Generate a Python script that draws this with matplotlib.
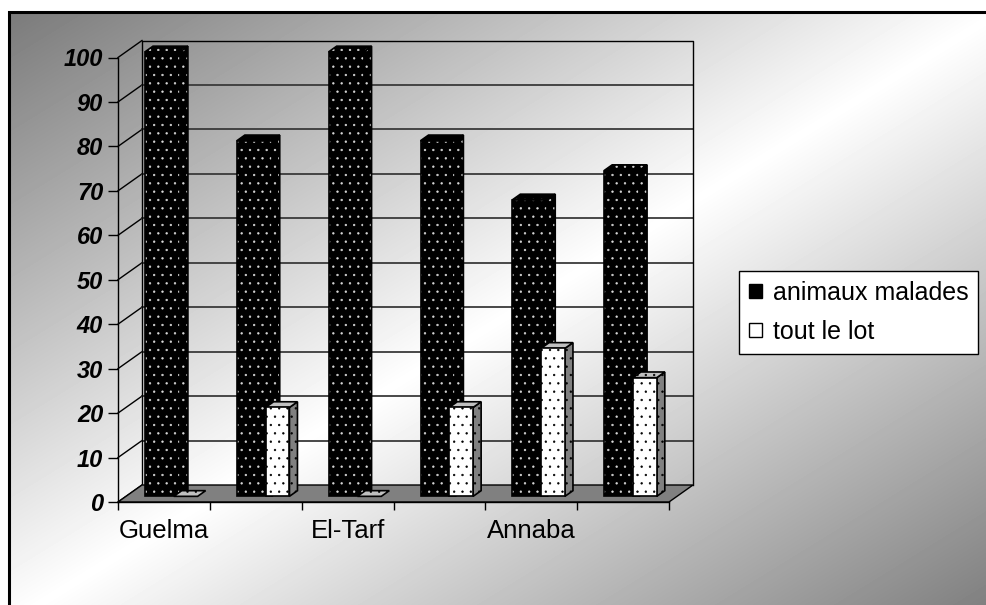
import numpy as np
import matplotlib.pyplot as plt
from matplotlib.patches import Polygon, Patch

plt.rcParams['font.family'] = ['Liberation Sans', 'DejaVu Sans']
plt.rcParams['hatch.linewidth'] = 0.45

# data
places = ["Guelma", "", "El-Tarf", "", "Annaba", ""]
malades = [100, 80, 100, 80, 66.7, 73.3]
lot = [0, 20, 0, 20, 33.3, 26.7]
series_names = ["animaux malades", "tout le lot"]
yticks = np.arange(0, 101, 10)

W, H = 986, 605
fig = plt.figure(figsize=(W / 100, H / 100), dpi=100)

# chart area: diagonal gray -> white -> gray gradient
bg = fig.add_axes([0, 0, 1, 1])
bg.set_axis_off()
yy, xx = np.mgrid[0:H, 0:W]
t = (xx - 9) / 990 + (yy - 12) / 610
shade = 1 - 0.52 * np.abs(t - 1)
shade[(xx < 9) | (yy < 12)] = 1
bg.imshow(shade, cmap='gray', vmin=0, vmax=1, extent=(0, W, H, 0),
          aspect='auto', interpolation='bilinear')
bg.set_xlim(0, W)
bg.set_ylim(H, 0)
bg.plot([9, 9, W + 5], [H + 5, 12, 12], color='black', lw=2.2,
        solid_joinstyle='miter')

# plot area (front plane)
ax = fig.add_axes([118 / W, 103 / H, 551 / W, 444.5 / H])
ax.set_xlim(0, 6)
ax.set_ylim(0, 100)
ax.patch.set_visible(False)
for s in ['top', 'right']:
    ax.spines[s].set_visible(False)
for s in ['left', 'bottom']:
    ax.spines[s].set_linewidth(1.0)

# depth of the 3d box, in data units
DX, DY = 24 / 91.83, 17 / 4.445


def P(x, v, d):
    return (x + d * DX, v + d * DY)


def line(pts, **kw):
    xs, ys = zip(*pts)
    ax.plot(xs, ys, clip_on=False, **kw)


# walls and grid
for v in yticks:
    line([P(0, v, 0), P(0, v, 1)], color='black', lw=1.0, zorder=1)
    if 0 < v < 100:
        line([P(0, v, 1), P(6, v, 1)], color='#3a3a3a', lw=1.3, zorder=1)
line([P(0, 0, 1), P(0, 100, 1), P(6, 100, 1), P(6, 0, 1)],
     color='black', lw=1.0, zorder=1)

floor = [P(0, 0, 0), P(6, 0, 0), P(6, 0, 1), P(0, 0, 1)]
ax.add_patch(Polygon(floor, closed=True, facecolor='#808080',
                     edgecolor='black', lw=1.0, zorder=1.5, clip_on=False))


def face(pts, fc, dots, z):
    ax.add_patch(Polygon(pts, closed=True, facecolor=fc, edgecolor=dots,
                         hatch='..', lw=0, zorder=z, clip_on=False))
    ax.add_patch(Polygon(pts, closed=True, fill=False, edgecolor='black',
                         lw=1.2, zorder=z, clip_on=False))


def column(x0, w, v, colors, z):
    d0, d1 = 1 / 3, 2 / 3
    front_c, side_c, top_c, dots = colors
    top = [P(x0, v, d0), P(x0 + w, v, d0), P(x0 + w, v, d1), P(x0, v, d1)]
    if v > 0:
        side = [P(x0 + w, 0, d0), P(x0 + w, 0, d1), P(x0 + w, v, d1),
                P(x0 + w, v, d0)]
        front = [P(x0, 0, d0), P(x0 + w, 0, d0), P(x0 + w, v, d0),
                 P(x0, v, d0)]
        face(side, side_c, dots, z)
        face(top, top_c, dots, z)
        face(front, front_c, dots, z)
    else:
        face(top, top_c, dots, z)


dark = ('black', 'black', 'black', '#d8d8d8')
light = ('white', '#808080', '#c0c0c0', 'black')
for i in range(len(places)):
    column(i + 0.207, 0.38, malades[i], dark, 3 + 2 * i)
    column(i + 0.52, 0.26, lot[i], light, 4 + 2 * i)

# axes ticks and labels
ax.set_yticks(yticks)
ax.set_yticklabels([str(v) for v in yticks], fontsize=17,
                   fontweight='bold', fontstyle='italic')
ax.tick_params(axis='y', direction='out', length=7.2, width=1.0, pad=3.5)
ax.set_xticks(np.arange(0, 7))
ax.set_xticklabels([])
ax.tick_params(axis='x', which='major', direction='out', length=6,
               width=1.0)
ax.set_xticks(np.arange(len(places)) + 0.5, minor=True)
ax.set_xticklabels(places, minor=True, fontsize=18.5)
ax.tick_params(axis='x', which='minor', length=0, pad=12)

handles = [Patch(facecolor='black', edgecolor='black', lw=1.0),
           Patch(facecolor='white', edgecolor='black', lw=1.0)]
leg = ax.legend(handles, series_names, loc='upper left',
                bbox_to_anchor=(739 / W, 1 - 271 / H),
                bbox_transform=fig.transFigure, fontsize=18,
                frameon=True, fancybox=False, framealpha=1,
                edgecolor='black', borderpad=0.4, labelspacing=0.6,
                handlelength=0.5, handleheight=0.5, handletextpad=0.45,
                borderaxespad=0)
leg.get_frame().set_linewidth(1.0)
leg.set_zorder(20)

fig.savefig('out.png', dpi=100)
